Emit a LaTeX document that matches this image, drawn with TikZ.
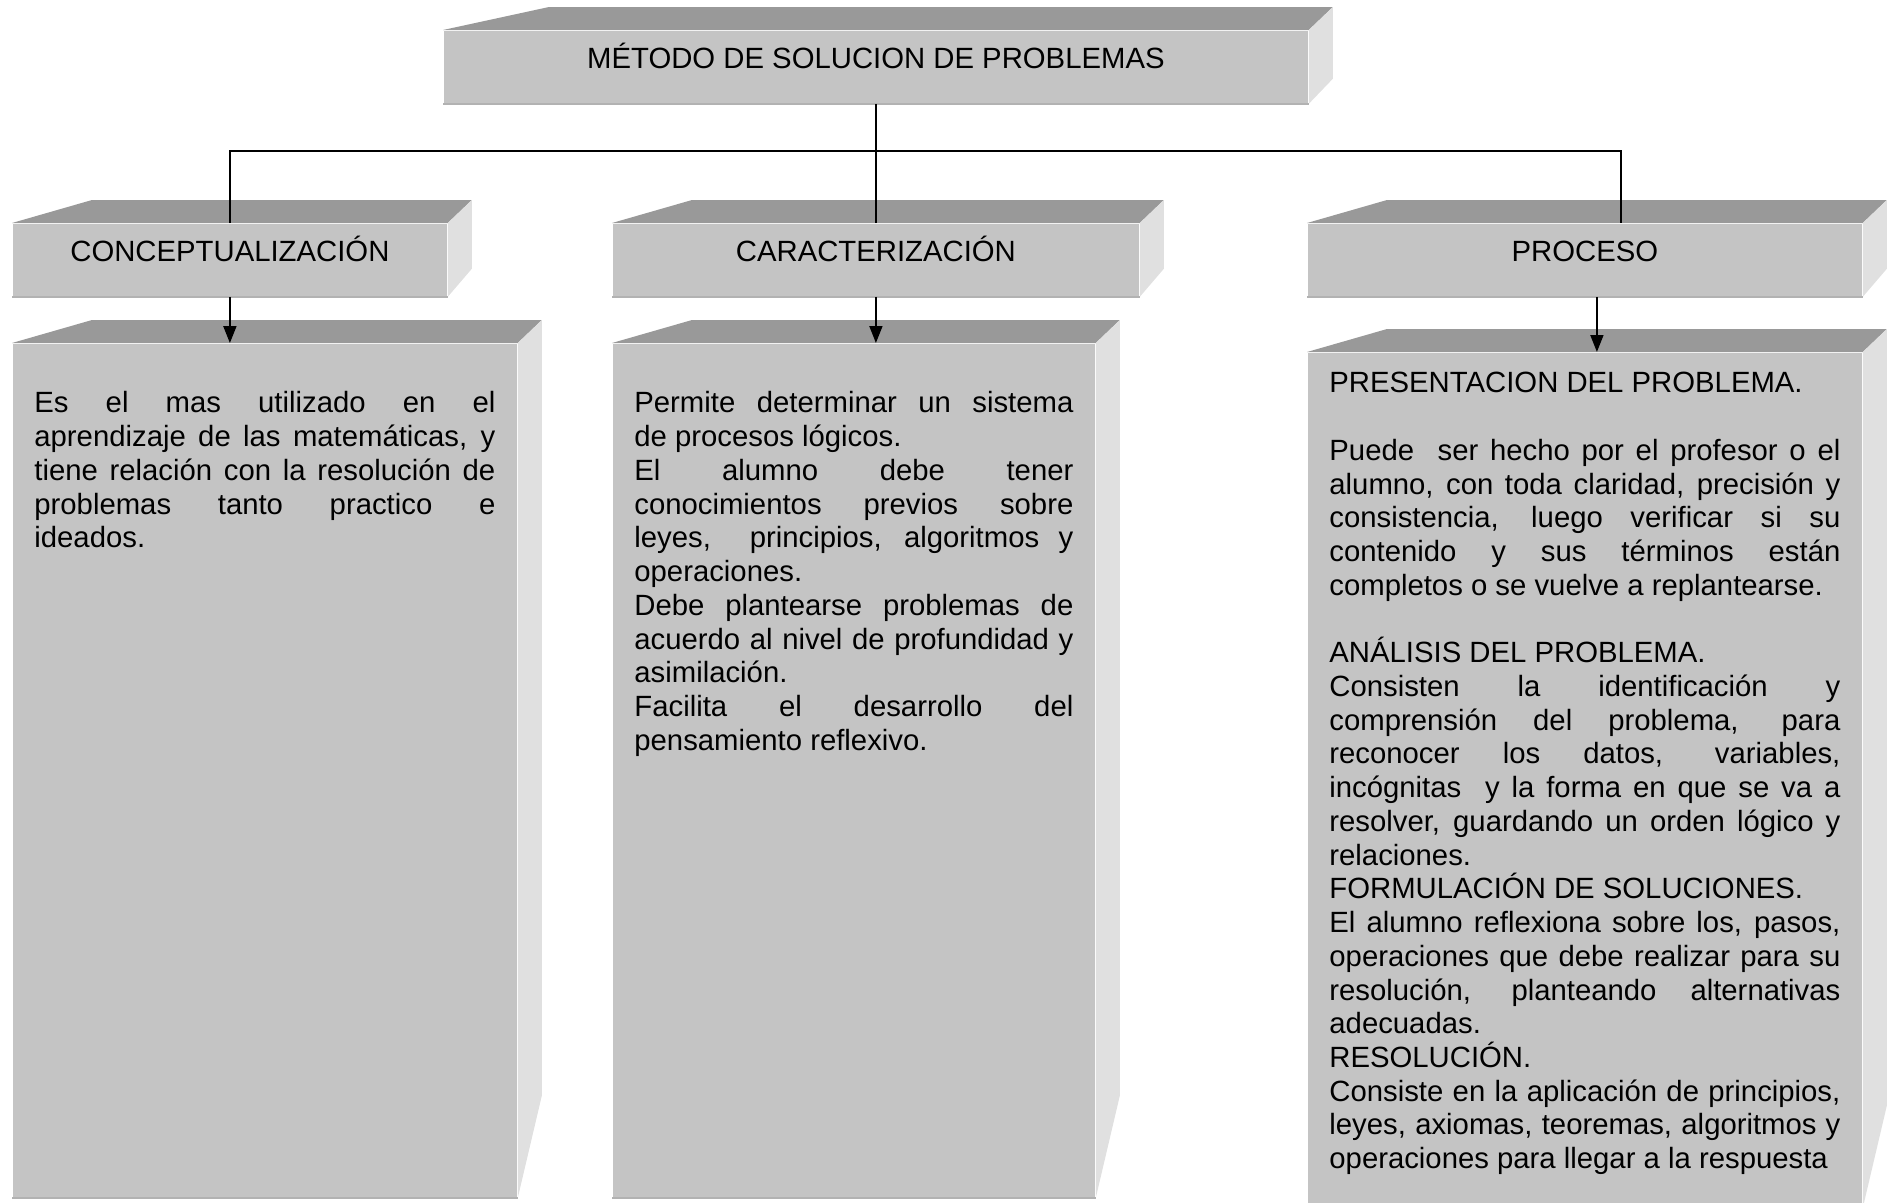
\documentclass[tikz,border=0pt]{standalone}
\usepackage{fontspec}
\setmainfont{Liberation Sans}
\usepackage{tikz}
\usetikzlibrary{arrows.meta}

\definecolor{frontgray}{HTML}{C4C4C4}
\definecolor{topgray}{HTML}{999999}
\definecolor{sidegray}{HTML}{E0E0E0}
\definecolor{edgegray}{HTML}{B2B2B2}
\tolerance=10000
\hyphenpenalty=10000

\begin{document}
\begin{tikzpicture}[x=1pt,y=-1pt,>={Triangle[length=17pt,width=13pt]},
        line width=1.8pt,
        every node/.style={font=\fontsize{29.3}{33.73}\selectfont},
        front/.style={fill=frontgray,anchor=north west,inner ysep=0pt},
        hdr/.style={front,inner xsep=0pt,text height=38pt,text depth=34pt},
        txt/.style={front,inner xsep=21.5pt,align=justify}]

  \useasboundingbox (0,0) rectangle (1889,1202);

  \node[hdr,minimum width=864pt] (m) at (443,30) {MÉTODO DE SOLUCION DE PROBLEMAS};

  \node[hdr,minimum width=434pt] (c1) at (12,223)   {CONCEPTUALIZACIÓN};
  \node[hdr,minimum width=526pt] (c2) at (612,223)  {CARACTERIZACIÓN};
  \node[hdr,minimum width=554pt] (c3) at (1307,223) {PROCESO};

  \node[txt,text width=461pt,text height=69pt,text depth=784pt] (b1) at (12,343)
    {Es el mas utilizado en el\linebreak aprendizaje de las matemáticas, y\linebreak
     tiene relación con la resolución de\linebreak problemas tanto practico e\linebreak
     ideados.};
  \node[txt,text width=439pt,text height=69pt,text depth=784pt] (b2) at (612,343)
    {Permite determinar un sistema\linebreak de procesos lógicos.\\
     El alumno debe tener\linebreak conocimientos previos sobre\linebreak
     leyes,\ \ principios, algoritmos y\linebreak operaciones.\\
     Debe plantearse problemas de\linebreak acuerdo al nivel de profundidad y\linebreak
     asimilación.\\
     Facilita el desarrollo del\linebreak pensamiento reflexivo.};
  \node[txt,text width=511pt,text height=40pt,text depth=814pt] (b3) at (1307,352)
    {PRESENTACION DEL PROBLEMA.\\[33.73pt]
     Puede\ \ ser hecho por el profesor o el\linebreak alumno, con toda claridad, precisión y\linebreak
     consistencia, luego verificar si su\linebreak contenido y sus términos están\linebreak
     completos o se vuelve a replantearse.\\[33.73pt]
     ANÁLISIS DEL PROBLEMA.\\
     Consisten la identificación y\linebreak comprensión del problema, para\linebreak
     reconocer los datos, variables,\linebreak incógnitas\ \ y la forma en que se va a\linebreak
     resolver, guardando un orden lógico y\linebreak relaciones.\\
     FORMULACIÓN DE SOLUCIONES.\\
     El alumno reflexiona sobre los, pasos,\linebreak operaciones que debe realizar para su\linebreak
     resolución, planteando alternativas\linebreak adecuadas.\\
     RESOLUCIÓN.\\
     Consiste en la aplicación de principios,\linebreak leyes, axiomas, teoremas, algoritmos y\linebreak
     operaciones para llegar a la respuesta};

  % top and side faces of the boxes
  \foreach \n/\l/\s in {m/106/25,c1/80/28,c2/80/28,c3/80/28,b1/80/102,b2/80/102,b3/80/102}{
    \fill[topgray] (\n.north west) -- ++(\l,-23) -- ([shift={(24,-23)}]\n.north east)
      -- (\n.north east) -- cycle;
    \fill[sidegray] (\n.north east) -- ++(24,-23) -- ([shift={(24,-\s)}]\n.south east)
      -- (\n.south east) -- cycle;
    \draw[edgegray,line width=2pt] (\n.south west) -- (\n.south east);
  }

  \coordinate (bus) at (0,151);
  \coordinate (r) at ([xshift=36pt]c3.north);
  \coordinate (a3) at ([xshift=12pt]c3.south);

  \draw (m.south) -- (m.south |- bus);
  \draw (c1.north) |- (bus -| r) -- (r);
  \draw (c2.north) -- (c2.north |- bus);

  \path[->] (c1.south) edge (c1.south |- b1.north)
            (c2.south) edge (c2.south |- b2.north)
            (a3)       edge (a3 |- b3.north);

\end{tikzpicture}
\end{document}
